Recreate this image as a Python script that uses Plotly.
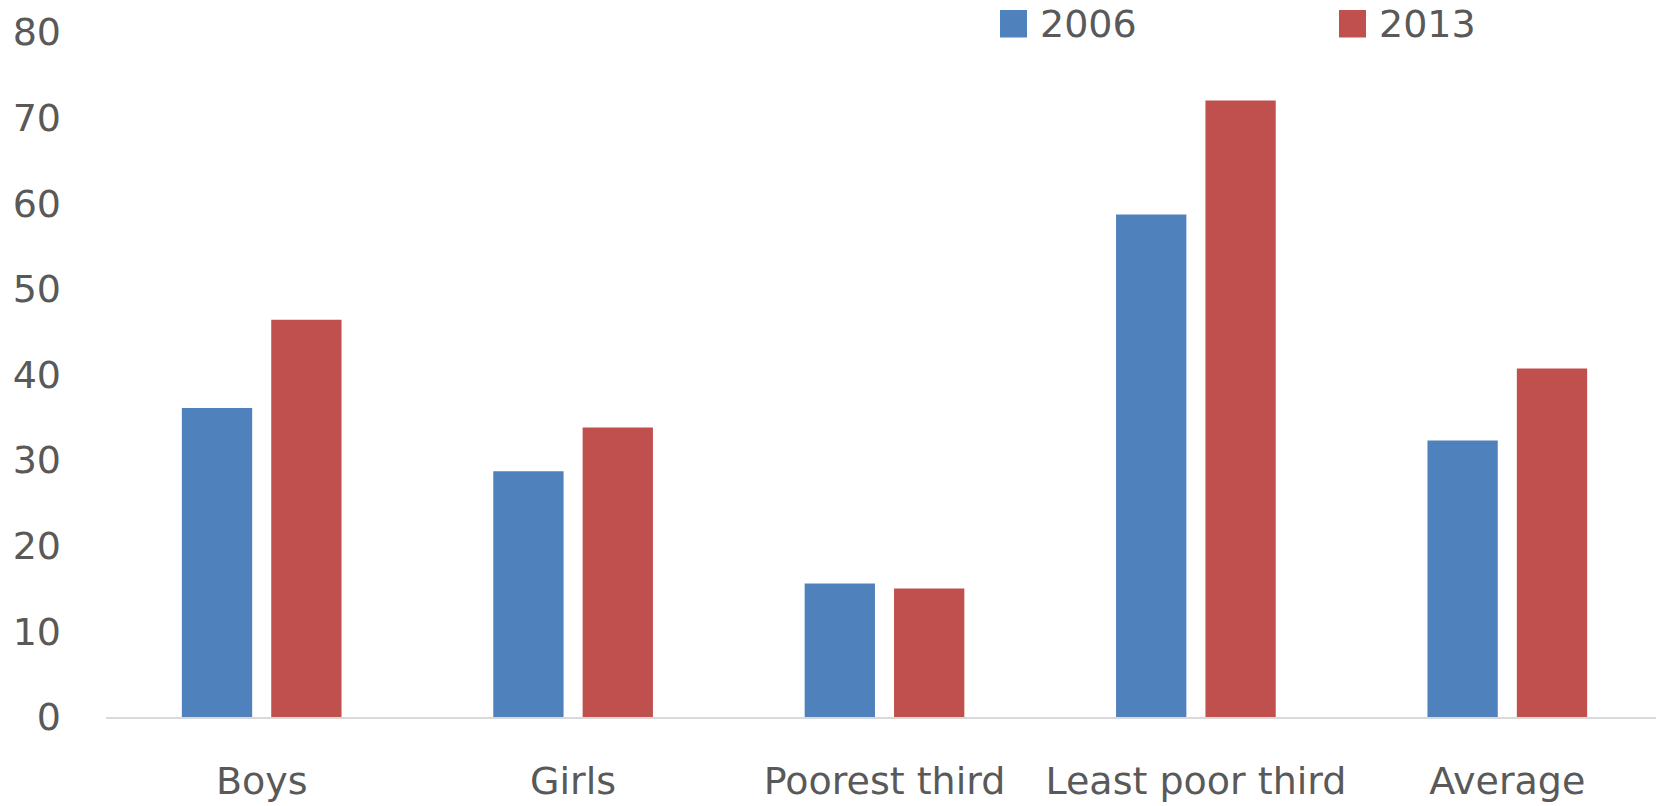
import plotly.graph_objects as go

categories = ["Boys", "Girls", "Poorest third", "Least poor third", "Average"]
series_names = ["2006", "2013"]
values_2006 = [36.1, 28.7, 15.6, 58.7, 32.3]
values_2013 = [46.4, 33.8, 15.0, 72.0, 40.7]
colors = ["#4F81BD", "#C0504D"]
y_ticks = [0, 10, 20, 30, 40, 50, 60, 70, 80]

W, H = 1656, 806
L, T, B = 106, 31.5, 89
FONT = "DejaVu Sans"
FS = 38
GREY = "#595959"

fig = go.Figure()
for name, vals, col in zip(series_names, [values_2006, values_2013], colors):
    fig.add_trace(go.Bar(x=list(range(len(categories))), y=vals, name=name,
                         marker=dict(color=col, line=dict(width=0)), showlegend=False))

plot_w = W - L
unit = 311.4
fig.update_layout(
    width=W, height=H,
    margin=dict(l=L, r=0, t=T, b=B),
    paper_bgcolor="white", plot_bgcolor="white",
    barmode="group", bargap=0.426, bargroupgap=0.2135,
    font=dict(family=FONT, color=GREY, size=FS),
    xaxis=dict(range=[-0.5, -0.5 + plot_w / unit], tickmode="array",
               tickvals=list(range(len(categories))), ticktext=categories,
               showline=True, linecolor="#D9D9D9", linewidth=1.5,
               showgrid=False, zeroline=False, ticks="",
               tickfont=dict(size=FS, color=GREY, family=FONT),
               ticklabelstandoff=30),
    yaxis=dict(range=[0, 80], tickvals=y_ticks, showgrid=False, zeroline=False,
               showline=False, ticks="", tickfont=dict(size=FS, color=GREY, family=FONT),
               ticklabelstandoff=44),
)

# legend drawn manually (large squares)
legend_items = [(1000, colors[0], series_names[0]), (1339, colors[1], series_names[1])]
for x0, col, name in legend_items:
    fig.add_shape(type="rect", xref="paper", yref="paper",
                  x0=(x0 - L) / plot_w, x1=(x0 + 27 - L) / plot_w,
                  y0=1 + (T - 37) / (H - T - B), y1=1 + (T - 9.5) / (H - T - B),
                  fillcolor=col, line=dict(width=0))
    fig.add_annotation(xref="paper", yref="paper", x=(x0 + 38 - L) / plot_w,
                       y=1 + (T - 23.5) / (H - T - B), text=name, showarrow=False,
                       xanchor="left", yanchor="middle",
                       font=dict(size=FS, color=GREY, family=FONT))

fig.write_html("out.html")
